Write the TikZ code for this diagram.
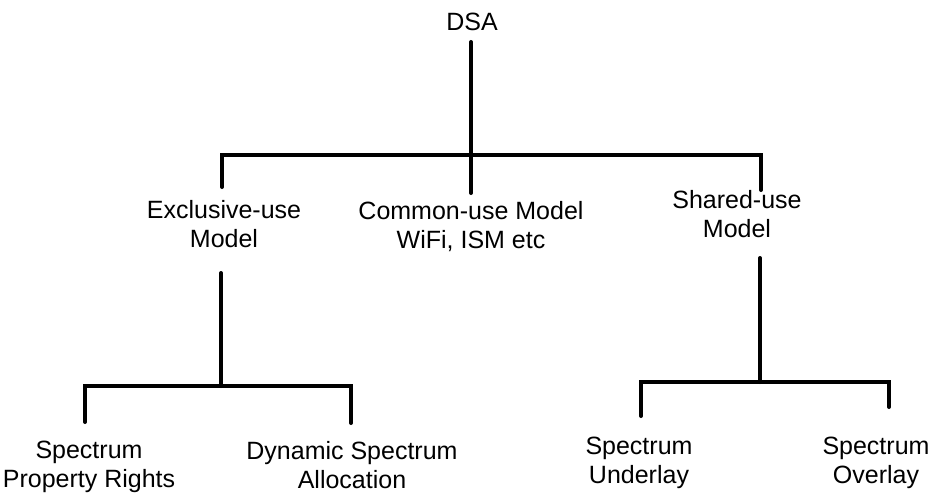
\documentclass[tikz,border=0pt]{standalone}
\usepackage{fontspec}
\setmainfont{Liberation Sans}
\begin{document}
\begin{tikzpicture}[x=1pt,y=-1pt,
  lbl/.style={font=\fontsize{25}{29}\selectfont, align=center, inner sep=0pt, anchor=north},
  wire/.style={line width=4pt, line cap=round, line join=miter}]
\useasboundingbox (0,0) rectangle (933,495);

% labels
\node[lbl] (dsa)    at (472,13)  {DSA};
\node[lbl] (excl)   at (224,200) {Exclusive-use\\Model};
\node[lbl] (common) at (471,201) {Common-use Model\\WiFi, ISM etc};
\node[lbl] (shared) at (737,190) {Shared-use\\Model};
\node[lbl] (spr)    at (89,441)  {Spectrum\\Property Rights};
\node[lbl] (dsal)   at (352,441) {Dynamic Spectrum\\Allocation};
\node[lbl] (und)    at (639,437) {Spectrum\\Underlay};
\node[lbl] (ovl)    at (876,437) {Spectrum\\Overlay};

% junction points of the first level
\coordinate (stemtop) at (471,42);
\coordinate (stembot) at (471,193);
\coordinate (barL)    at (222,155);
\coordinate (barR)    at (761,155);
\coordinate (dropL)   at (222,187);
\coordinate (dropR)   at (761,190);

% junction points of the second level
\coordinate (exTop)   at (221,273);
\coordinate (exBar)   at (221,386);
\coordinate (exL)     at (85,386);
\coordinate (exR)     at (351,386);
\coordinate (exLend)  at (85,422);
\coordinate (exRend)  at (351,423);

\coordinate (shTop)   at (760,258);
\coordinate (shBar)   at (760,382);
\coordinate (shL)     at (641,382);
\coordinate (shR)     at (889,382);
\coordinate (shLend)  at (641,416);
\coordinate (shRend)  at (889,407);

% DSA trunk and first-level bar
\draw[wire] (stemtop) -- (stembot);
\draw[wire] (dropL) -- (barL) -- (barR) -- (dropR);

% exclusive-use branch
\draw[wire] (exTop) -- (exBar);
\draw[wire] (exLend) -- (exL) -- (exR) -- (exRend);

% shared-use branch
\draw[wire] (shTop) -- (shBar);
\draw[wire] (shLend) -- (shL) -- (shR) -- (shRend);
\end{tikzpicture}
\end{document}
